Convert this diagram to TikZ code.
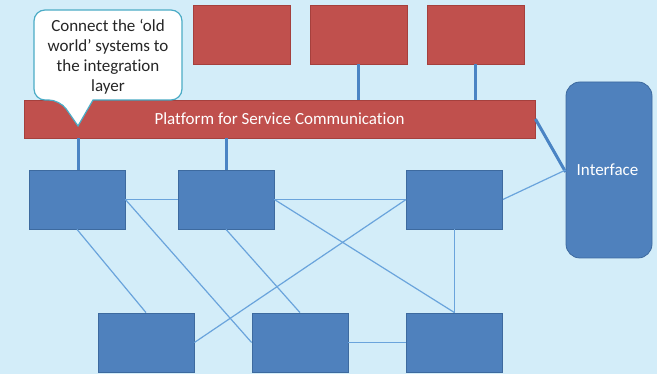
\documentclass[tikz,border=0pt]{standalone}
\usepackage{fontspec}
\setmainfont[Ligatures={NoCommon,NoContextual}]{Carlito}
\definecolor{bg}{HTML}{D3EDF9}
\definecolor{redfill}{HTML}{C0504D}
\definecolor{redline}{HTML}{A5403D}
\definecolor{bluefill}{HTML}{4F81BD}
\definecolor{blueline}{HTML}{3D6A9F}
\definecolor{thinline}{HTML}{6AA4DC}
\definecolor{thickline}{HTML}{4A84C4}
\definecolor{calloutline}{HTML}{4BACC6}
\definecolor{txt}{HTML}{262626}
\tikzset{
  redbox/.style={draw=redline, fill=redfill, line width=0.8pt, minimum width=97pt, minimum height=59pt, inner sep=0pt},
  bluebox/.style={draw=blueline, fill=bluefill, line width=0.8pt, minimum width=96pt, minimum height=59pt, inner sep=0pt},
  thin link/.style={draw=thinline, line width=1.2pt},
  thick link/.style={draw=thickline, line width=3pt},
}
\begin{document}
\begin{tikzpicture}[x=1pt,y=-1pt]
\fill[bg] (0,0) rectangle (657,374);
\useasboundingbox (0,0) rectangle (657,374);
% top red boxes
\node[redbox] (r1) at (241.5,34.5) {};
\node[redbox] (r2) at (358.5,34.5) {};
\node[redbox] (r3) at (475.5,34.5) {};
% platform
\node[redbox, minimum width=511pt, minimum height=38pt, text=white, font=\fontsize{17}{20}\selectfont] (plat) at (279.5,119) {Platform for Service Communication};
% interface
\node[draw=blueline, fill=bluefill, line width=0.8pt, rounded corners=14pt, minimum width=86pt, minimum height=176pt, inner sep=0pt] (intf) at (609,170) {};
\node[text=white, font=\fontsize{17}{20}\selectfont] (intftext) at (607.5,170) {Interface};
% blue boxes
\node[bluebox] (b1) at (77,199.5) {};
\node[bluebox] (b2) at (226,199.5) {};
\node[bluebox] (b3) at (454.5,199.5) {};
\node[bluebox] (b4) at (146,342.5) {};
\node[bluebox] (b5) at (300,342.5) {};
\node[bluebox] (b6) at (454.5,342.5) {};
% thick connectors
\path[thick link] (r2.south) -- (r2.south |- plat.north);
\path[thick link] (r3.south) -- (r3.south |- plat.north);
\path[thick link] ([xshift=1pt]b1.north |- plat.south) -- ([xshift=1pt]b1.north);
\path[thick link] (b2.north |- plat.south) -- (b2.north);
\path[thick link] (plat.east) -- ([yshift=-2pt]intf.west);
% thin connectors
\path[thin link] (b1.east) -- (b2.west);
\path[thin link] (b2.east) -- (b3.west);
\path[thin link] (b1.south) -- (b4.north);
\path[thin link] (b1.east) -- (b5.west);
\path[thin link] (b2.south) -- (b5.north);
\path[thin link] (b2.east) -- (b6.north);
\path[thin link] (b4.east) -- (b3.west);
\path[thin link] (b3.south) -- (b6.north);
\path[thin link] (b5.east) -- (b6.west);
\path[thin link] (b3.east) -- (intf.west);
% callout
\draw[calloutline, fill=white, line width=1.2pt, rounded corners=11pt]
  (93,100) -- (182,100) -- (182,10) -- (34,10) -- (34,100) -- (60,100)
  [sharp corners] -- (78,126) -- (93,100) -- cycle;
\node[text=txt, align=center, font=\fontsize{17}{20}\selectfont] (calltext) at (108,56.5)
  {Connect the ‘old\\world’ systems to\\the integration\\layer};
\end{tikzpicture}
\end{document}
